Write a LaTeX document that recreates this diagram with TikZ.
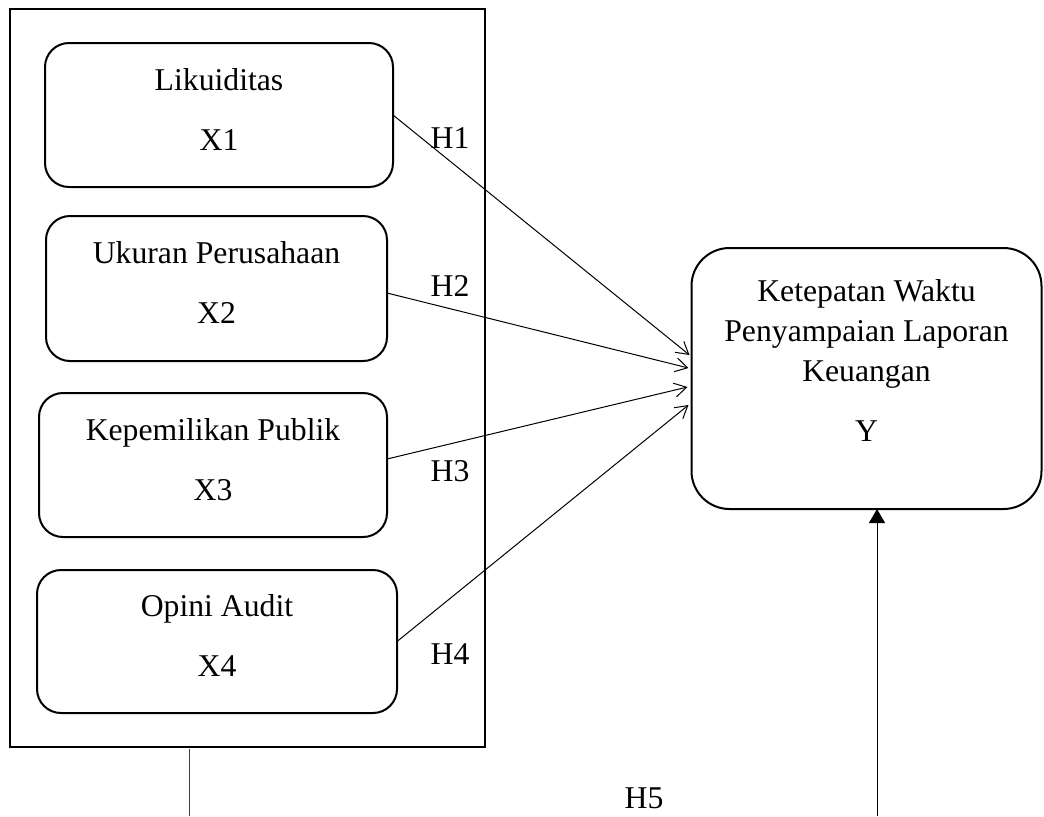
\documentclass[tikz,border=0pt]{standalone}
\usepackage{fontspec}
\setmainfont{Liberation Serif}
\usetikzlibrary{arrows.meta,calc}
\tikzset{
  xbox/.style={draw, line width=1pt, rounded corners=12pt, inner sep=0pt, outer sep=0pt,
    align=center, font=\fontsize{15.85pt}{30pt}\selectfont, text depth=6pt},
  ybox/.style={draw, line width=1pt, rounded corners=19pt, inner sep=0pt, outer sep=0pt,
    align=center, font=\fontsize{15.85pt}{20pt}\selectfont, text depth=18.3pt},
  frame/.style={draw, line width=1pt, inner sep=0pt, outer sep=0pt},
  hlab/.style={font=\fontsize{15.85pt}{20pt}\selectfont, inner sep=0pt},
  hyp/.style={line width=0.5pt, -{Straight Barb[length=6pt,width=7pt,line width=0.5pt]}},
  plain/.style={line width=0.5pt, draw=black!75}
}
\begin{document}
\begin{tikzpicture}[x=0.5pt,y=-0.5pt]
\useasboundingbox (0,0) rectangle (1044,816);
\node[frame, minimum width=237.5pt, minimum height=369pt] (outer) at (247.5,378) {};
\node[xbox, minimum width=174pt, minimum height=72pt] (x1) at (219,115) {Likuiditas\\X1};
\node[xbox, minimum width=170.5pt, minimum height=72.5pt] (x2) at (216.5,288.5) {Ukuran Perusahaan\\X2};
\node[xbox, minimum width=174pt, minimum height=72pt] (x3) at (213,465) {Kepemilikan Publik\\X3};
\node[xbox, minimum width=180pt, minimum height=71.5pt] (x4) at (217,641.5) {Opini Audit\\X4};
\node[ybox, minimum width=175pt, minimum height=130.5pt] (y) at (866.5,378.5) {Ketepatan Waktu\\Penyampaian Laporan\\Keuangan\\[10pt]Y};

\draw[hyp] (x1.east) -- ([xshift=-1pt,yshift=11.75pt]y.west);
\draw[hyp] ([yshift=-2.25pt]x2.east) -- ([xshift=-1.5pt,yshift=5.25pt]y.west);
\draw[hyp] ([yshift=3pt]x3.east) -- ([xshift=-2pt,yshift=-4.25pt]y.west);
\draw[hyp] (x4.east) -- ([xshift=-1.5pt,yshift=-13.25pt]y.west);

\node[hlab] (h1) at (450,138) {H1};
\node[hlab] (h2) at (450,286) {H2};
\node[hlab] (h3) at (450,471) {H3};
\node[hlab] (h4) at (450,654) {H4};
\node[hlab] (h5) at (644,798) {H5};

\coordinate (lb) at (189,816);
\coordinate (rb) at (877,816);
\draw[plain] ([yshift=-1pt]outer.south -| lb) -- (lb);
\draw[line width=0.5pt, -{Triangle[length=7pt,width=8pt]}] (rb) -- (rb |- y.south);
\end{tikzpicture}
\end{document}
